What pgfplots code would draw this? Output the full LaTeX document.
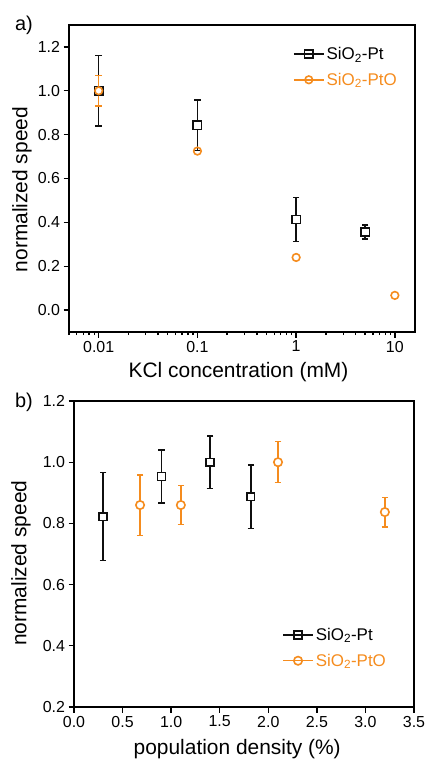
\documentclass[border=0pt]{standalone}
\usepackage{fontspec}
\setmainfont{Liberation Sans}
\usepackage{pgfplots}
\usepackage{pgfplotstable}
\pgfplotsset{compat=1.18}
\definecolor{ptblack}{RGB}{15,15,15}
\definecolor{ptorange}{RGB}{245,140,30}

% panel a: KCl concentration (mM), normalized speed, error
\pgfplotstableread{
x     y      e
0.01  1.000  0.161
0.1   0.843  0.116
1     0.413  0.100
5     0.356  0.031
}\aPt
\pgfplotstableread{
x     y      e
0.01  1.000  0.069
0.1   0.725  0.0
1     0.240  0.0
10    0.067  0.0
}\aPtO
% panel b: population density (%)
\pgfplotstableread{
x     y      e
0.30  0.822  0.144
0.90  0.953  0.087
1.40  1.000  0.086
1.82  0.887  0.104
}\bPt
\pgfplotstableread{
x     y      e
0.68  0.860  0.099
1.10  0.860  0.064
2.10  1.000  0.067
3.20  0.837  0.048
}\bPtO

\pgfplotsset{
  myaxis/.style={
    scale only axis,
    axis line style={line width=1.5bp},
    tick style={line width=1.3bp, black},
    tick align=outside,
    xtick pos=bottom, ytick pos=left,
    major tick length=5.5bp, minor tick length=3bp,
    tick label style={font=\fontsize{16}{16}\selectfont},
    label style={font=\fontsize{21}{21}\selectfont},
    /pgf/number format/assume math mode=true,
    /pgf/number format/fixed,
    /pgf/number format/fixed zerofill,
    /pgf/number format/precision=1,
    legend style={draw=none, fill=none, font=\fontsize{17}{17}\selectfont,
      legend cell align=left, row sep=8bp, inner sep=0pt},
    legend image code/.code={\draw[mark repeat=2,mark phase=2,##1,sharp plot]
      plot coordinates {(0bp,0bp) (15bp,0bp) (30bp,0bp)};},
  },
  % bars start at the marker edge so the open markers stay clear
  errstyle/.style={draw=none, mark=none, forget plot,
    error bars/.cd, y dir=both, y explicit,
    draw error bar/.code 2 args={%
      \draw[#1, line width=1.5bp, shorten <=3.6bp] ##1 -- ##2
        node[pos=1, sloped, allow upside down, inner sep=0pt]
        {\tikz\draw[#1, line width=1.5bp, shorten <=0pt, shorten >=0pt]
          (0bp,-3.3bp) -- (0bp,3.3bp);};
    }},
  ptstyle/.style={ptblack, line width=1.5bp, only marks, mark=square, mark size=#1,
    mark options={fill=white, line width=1.5bp}},
  ptostyle/.style={ptorange, line width=1.5bp, only marks, mark=o, mark size=#1,
    mark options={fill=white, line width=1.6bp}},
}

\begin{document}
\begin{tikzpicture}
\path[use as bounding box] (0bp,0bp) rectangle (426bp,-760bp);

% panel a
\begin{axis}[myaxis,
  at={(69bp,-332bp)}, anchor=south west,
  width=346bp, height=307bp,
  xmode=log, xmin=0.005, xmax=16,
  xtick={0.01,0.1,1,10}, xticklabels={0.01,0.1,1,10},
  minor xtick={0.005,0.006,0.007,0.008,0.009,0.02,0.03,0.04,0.05,0.06,0.07,0.08,0.09,
    0.2,0.3,0.4,0.5,0.6,0.7,0.8,0.9,2,3,4,5,6,7,8,9},
  ymin=-0.1, ymax=1.3,
  ytick={0,0.2,0.4,0.6,0.8,1.0,1.2},
  xlabel={KCl concentration (mM)},
  ylabel={normalized speed},
  xlabel style={at={(axis description cs:0.49,-0.148)}, anchor=base},
  ylabel style={at={(axis description cs:-0.136,0.464)}, anchor=center},
  legend style={at={(axis description cs:0.647,0.935)}, anchor=north west},
]
\addplot[errstyle=ptblack] table[x=x, y=y, y error=e] {\aPt};
\addplot[skip coords between index={1}{4}, errstyle=ptorange] table[x=x, y=y, y error=e] {\aPtO};
\addplot[ptstyle=4.2bp] table[x=x, y=y] {\aPt};
\addplot[ptostyle=3.8bp] table[x=x, y=y] {\aPtO};
\legend{SiO\textsubscript{2}-Pt, \textcolor{ptorange}{SiO\textsubscript{2}-PtO}}
\end{axis}

% panel b
\begin{axis}[myaxis,
  at={(74bp,-707bp)}, anchor=south west,
  width=340bp, height=306bp,
  xmin=0, xmax=3.5, ymin=0.2, ymax=1.2,
  xtick={0,0.5,1.0,1.5,2.0,2.5,3.0,3.5},
  ytick={0.2,0.4,0.6,0.8,1.0,1.2},
  xlabel={population density (\%)},
  ylabel={normalized speed},
  xlabel style={at={(axis description cs:0.48,-0.155)}, anchor=base},
  ylabel style={at={(axis description cs:-0.156,0.47)}, anchor=center},
  legend style={at={(axis description cs:0.612,0.265)}, anchor=north west},
]
\addplot[errstyle=ptblack] table[x=x, y=y, y error=e] {\bPt};
\addplot[errstyle=ptorange] table[x=x, y=y, y error=e] {\bPtO};
\addplot[ptstyle=3.9bp] table[x=x, y=y] {\bPt};
\addplot[ptostyle=4.2bp] table[x=x, y=y] {\bPtO};
\legend{SiO\textsubscript{2}-Pt, \textcolor{ptorange}{SiO\textsubscript{2}-PtO}}
\end{axis}

\node at (24bp,-25bp) {\fontsize{20}{20}\selectfont a)};
\node at (24bp,-402bp) {\fontsize{20}{20}\selectfont b)};
\end{tikzpicture}
\end{document}
